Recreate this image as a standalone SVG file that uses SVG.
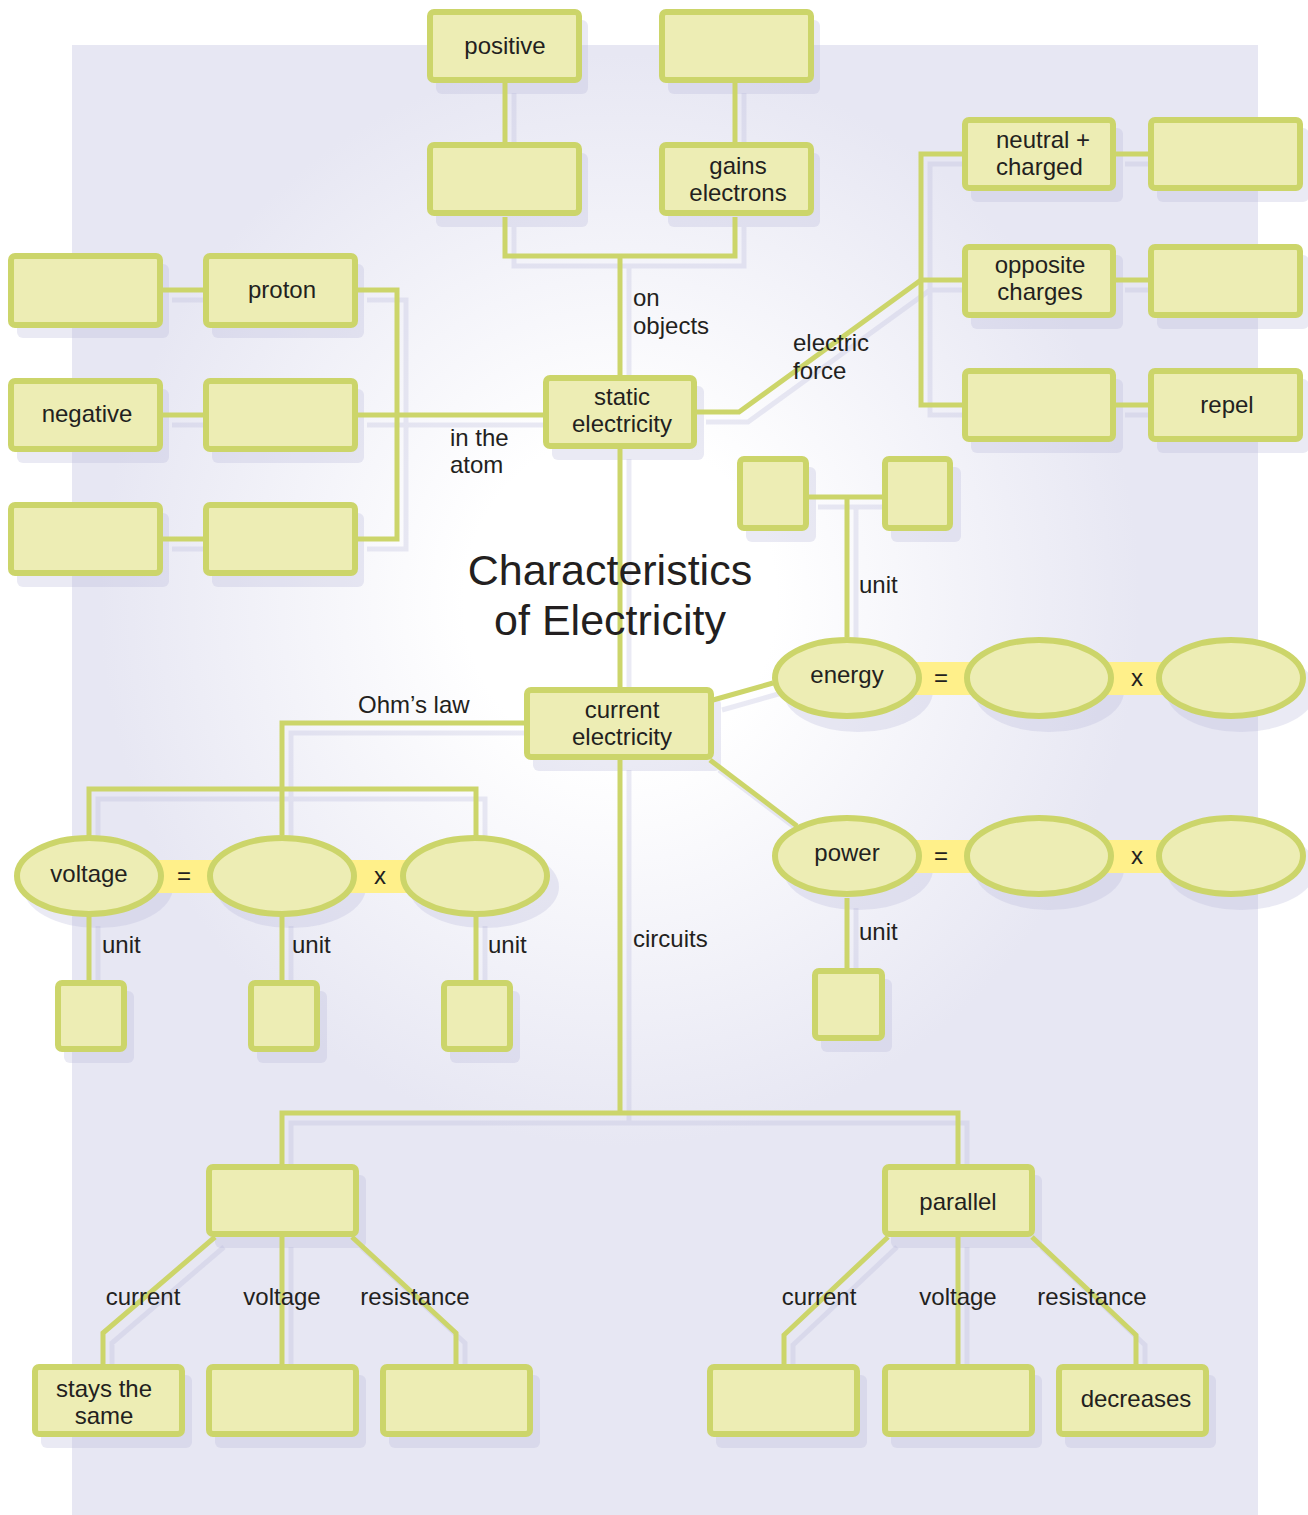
<svg xmlns="http://www.w3.org/2000/svg" width="1308" height="1515" viewBox="0 0 1308 1515">
<defs>
<radialGradient id="glow" gradientUnits="userSpaceOnUse" cx="620" cy="600" r="520" gradientTransform="translate(620 600) scale(1 1.05) translate(-620 -600)">
<stop offset="0" stop-color="#ffffff"/>
<stop offset="0.3" stop-color="#ffffff"/>
<stop offset="1" stop-color="#e7e7f3"/>
</radialGradient>
<style>
.box{fill:#ededb4;stroke:#ccd56a;stroke-width:6}
.sh{fill:#b9b9d9;opacity:.3}
.ln{fill:none;stroke:#ccd56a;stroke-width:5}
.lns{fill:none;stroke:#b9b9d9;stroke-width:5;opacity:.3}
.band{fill:#fff08a}
text{font-family:"Liberation Sans",Arial,sans-serif;font-size:24px;fill:#231f20}
.c{text-anchor:middle}
.title{font-size:43px}
</style>
</defs>
<rect x="0" y="0" width="1308" height="1515" fill="#ffffff"/>
<rect x="72" y="45" width="1186" height="1470" fill="#e7e7f3"/>
<rect x="72" y="45" width="1186" height="1470" fill="url(#glow)"/>

<!-- shadows -->
<g id="connector-shadows" transform="translate(9 10)">
<path class="lns" d="M505,83V142M735,83V142M505,217V256H735V217M620,256V376M620,449V688M620,760V1113M282,1165V1113H958V1165M697,412H739L921,280M962,154H921V405H962M921,280H962M1116,154H1148M1116,280H1148M1116,405H1148M163,290H203M163,415H203M163,539H203M358,290H397V539H358M358,415H543M809,497H882M847,497V637M713,700L773,683M710,760L797,826M847,898V968M525,723H282V835M89,836V789H476V836M89,916V980M282,916V980M476,916V980M215,1237L103,1333V1365M282,1237V1365M352,1237L456,1333V1365M888,1237L784,1335V1365M958,1237V1365M1032,1237L1136,1335V1365"/>
</g>
<g id="node-shadows" transform="translate(9 11)">
<rect class="sh" x="427" y="9" width="152" height="74" rx="6"/>
<rect class="sh" x="659" y="9" width="152" height="74" rx="6"/>
<rect class="sh" x="427" y="142" width="152" height="74" rx="6"/>
<rect class="sh" x="659" y="142" width="152" height="74" rx="6"/>
<rect class="sh" x="543" y="375" width="152" height="74" rx="6"/>
<rect class="sh" x="524" y="687" width="188" height="73" rx="6"/>
<rect class="sh" x="962" y="117" width="152" height="74" rx="6"/>
<rect class="sh" x="1148" y="117" width="152" height="74" rx="6"/>
<rect class="sh" x="962" y="244" width="152" height="74" rx="6"/>
<rect class="sh" x="1148" y="244" width="152" height="74" rx="6"/>
<rect class="sh" x="962" y="368" width="152" height="74" rx="6"/>
<rect class="sh" x="1148" y="368" width="152" height="74" rx="6"/>
<rect class="sh" x="8" y="253" width="152" height="74" rx="6"/>
<rect class="sh" x="203" y="253" width="152" height="74" rx="6"/>
<rect class="sh" x="8" y="378" width="152" height="74" rx="6"/>
<rect class="sh" x="203" y="378" width="152" height="74" rx="6"/>
<rect class="sh" x="8" y="502" width="152" height="74" rx="6"/>
<rect class="sh" x="203" y="502" width="152" height="74" rx="6"/>
<rect class="sh" x="737" y="456" width="70" height="75" rx="6"/>
<rect class="sh" x="882" y="456" width="70" height="75" rx="6"/>
<rect class="sh" x="812" y="968" width="71" height="73" rx="6"/>
<rect class="sh" x="55" y="980" width="70" height="72" rx="6"/>
<rect class="sh" x="248" y="980" width="70" height="72" rx="6"/>
<rect class="sh" x="441" y="980" width="70" height="72" rx="6"/>
<rect class="sh" x="206" y="1164" width="151" height="73" rx="6"/>
<rect class="sh" x="882" y="1164" width="151" height="73" rx="6"/>
<rect class="sh" x="32" y="1364" width="151" height="73" rx="6"/>
<rect class="sh" x="206" y="1364" width="151" height="73" rx="6"/>
<rect class="sh" x="380" y="1364" width="151" height="73" rx="6"/>
<rect class="sh" x="707" y="1364" width="151" height="73" rx="6"/>
<rect class="sh" x="882" y="1364" width="151" height="73" rx="6"/>
<rect class="sh" x="1056" y="1364" width="151" height="73" rx="6"/>
<ellipse class="sh" cx="849" cy="680" rx="75" ry="41"/>
<ellipse class="sh" cx="1040" cy="680" rx="75" ry="41"/>
<ellipse class="sh" cx="1232" cy="680" rx="75" ry="41"/>
<ellipse class="sh" cx="849" cy="858" rx="75" ry="41"/>
<ellipse class="sh" cx="1040" cy="858" rx="75" ry="41"/>
<ellipse class="sh" cx="1232" cy="858" rx="75" ry="41"/>
<ellipse class="sh" cx="89" cy="876" rx="75" ry="41"/>
<ellipse class="sh" cx="282" cy="876" rx="75" ry="41"/>
<ellipse class="sh" cx="475" cy="876" rx="75" ry="41"/>
</g>

<!-- connectors -->
<g id="connectors">
<path class="ln" d="M505,83V142"/>
<path class="ln" d="M735,83V142"/>
<path class="ln" d="M505,217V256H735V217"/>
<path class="ln" d="M620,256V376"/>
<path class="ln" d="M620,449V688"/>
<path class="ln" d="M620,760V1113"/>
<path class="ln" d="M282,1165V1113H958V1165"/>
<path class="ln" d="M697,412H739L921,280"/>
<path class="ln" d="M962,154H921V405H962M921,280H962"/>
<path class="ln" d="M1116,154H1148M1116,280H1148M1116,405H1148"/>
<path class="ln" d="M163,290H203M163,415H203M163,539H203"/>
<path class="ln" d="M358,290H397V539H358"/>
<path class="ln" d="M358,415H543"/>
<path class="ln" d="M809,497H882M847,497V637"/>
<path class="ln" d="M713,700L773,683"/>
<path class="ln" d="M710,760L797,826"/>
<path class="ln" d="M847,898V968"/>
<path class="ln" d="M525,723H282V835"/>
<path class="ln" d="M89,836V789H476V836"/>
<path class="ln" d="M89,916V980M282,916V980M476,916V980"/>
<path class="ln" d="M215,1237L103,1333V1365M282,1237V1365M352,1237L456,1333V1365"/>
<path class="ln" d="M888,1237L784,1335V1365M958,1237V1365M1032,1237L1136,1335V1365"/>
<rect class="band" x="847" y="662" width="385" height="33"/>
<rect class="band" x="847" y="840" width="385" height="33"/>
<rect class="band" x="89" y="860" width="386" height="33"/>
</g>

<!-- nodes -->
<g id="n-positive"><rect class="box" x="430" y="12" width="149" height="68" rx="4"/><text class="c" x="505" y="54">positive</text></g>
<g id="n-top-right"><rect class="box" x="662" y="12" width="149" height="68" rx="4"/></g>
<g id="n-top-left2"><rect class="box" x="430" y="145" width="149" height="68" rx="4"/></g>
<g id="n-gains"><rect class="box" x="662" y="145" width="149" height="68" rx="4"/><text class="c" x="738" y="174">gains</text><text class="c" x="738" y="201">electrons</text></g>
<g id="n-static"><rect class="box" x="546" y="378" width="148" height="68" rx="4"/><text class="c" x="622" y="405">static</text><text class="c" x="622" y="432">electricity</text></g>
<g id="n-current"><rect class="box" x="527" y="690" width="184" height="67" rx="4"/><text class="c" x="622" y="718">current</text><text class="c" x="622" y="745">electricity</text></g>
<g id="n-neutral"><rect class="box" x="965" y="120" width="148" height="68" rx="4"/><text x="996" y="148">neutral +</text><text x="996" y="175">charged</text></g>
<g id="n-r1"><rect class="box" x="1151" y="120" width="149" height="68" rx="4"/></g>
<g id="n-opposite"><rect class="box" x="965" y="247" width="148" height="68" rx="4"/><text class="c" x="1040" y="273">opposite</text><text class="c" x="1040" y="300">charges</text></g>
<g id="n-r2"><rect class="box" x="1151" y="247" width="149" height="68" rx="4"/></g>
<g id="n-r3left"><rect class="box" x="965" y="371" width="148" height="68" rx="4"/></g>
<g id="n-repel"><rect class="box" x="1151" y="371" width="149" height="68" rx="4"/><text class="c" x="1227" y="413">repel</text></g>
<g id="n-l1"><rect class="box" x="11" y="256" width="149" height="69" rx="4"/></g>
<g id="n-proton"><rect class="box" x="206" y="256" width="149" height="69" rx="4"/><text class="c" x="282" y="298">proton</text></g>
<g id="n-negative"><rect class="box" x="11" y="381" width="149" height="68" rx="4"/><text class="c" x="87" y="422">negative</text></g>
<g id="n-l2"><rect class="box" x="206" y="381" width="149" height="68" rx="4"/></g>
<g id="n-l3"><rect class="box" x="11" y="505" width="149" height="68" rx="4"/></g>
<g id="n-l4"><rect class="box" x="206" y="505" width="149" height="68" rx="4"/></g>
<g id="n-esq1"><rect class="box" x="740" y="459" width="66" height="69" rx="4"/></g>
<g id="n-esq2"><rect class="box" x="885" y="459" width="65" height="69" rx="4"/></g>
<g id="n-energy"><ellipse class="box" cx="847" cy="678" rx="72" ry="38"/><text class="c" x="847" y="683">energy</text></g>
<g id="n-e2"><ellipse class="box" cx="1039" cy="678" rx="72" ry="38"/></g>
<g id="n-e3"><ellipse class="box" cx="1231" cy="678" rx="72" ry="38"/></g>
<text class="c" x="941" y="686">=</text><text class="c" x="1137" y="686">x</text>
<g id="n-power"><ellipse class="box" cx="847" cy="856" rx="72" ry="38"/><text class="c" x="847" y="861">power</text></g>
<g id="n-p2"><ellipse class="box" cx="1039" cy="856" rx="72" ry="38"/></g>
<g id="n-p3"><ellipse class="box" cx="1231" cy="856" rx="72" ry="38"/></g>
<text class="c" x="941" y="864">=</text><text class="c" x="1137" y="864">x</text>
<g id="n-psq"><rect class="box" x="815" y="971" width="67" height="67" rx="4"/></g>
<g id="n-voltage"><ellipse class="box" cx="89" cy="876" rx="72" ry="38"/><text class="c" x="89" y="882">voltage</text></g>
<g id="n-v2"><ellipse class="box" cx="282" cy="876" rx="72" ry="38"/></g>
<g id="n-v3"><ellipse class="box" cx="475" cy="876" rx="72" ry="38"/></g>
<text class="c" x="184" y="884">=</text><text class="c" x="380" y="884">x</text>
<g id="n-vsq1"><rect class="box" x="58" y="983" width="66" height="66" rx="4"/></g>
<g id="n-vsq2"><rect class="box" x="251" y="983" width="66" height="66" rx="4"/></g>
<g id="n-vsq3"><rect class="box" x="444" y="983" width="66" height="66" rx="4"/></g>
<g id="n-series"><rect class="box" x="209" y="1167" width="147" height="67" rx="4"/></g>
<g id="n-parallel"><rect class="box" x="885" y="1167" width="147" height="67" rx="4"/><text class="c" x="958" y="1210">parallel</text></g>
<g id="n-stays"><rect class="box" x="35" y="1367" width="147" height="67" rx="4"/><text class="c" x="104" y="1397">stays the</text><text class="c" x="104" y="1424">same</text></g>
<g id="n-sb2"><rect class="box" x="209" y="1367" width="147" height="67" rx="4"/></g>
<g id="n-sb3"><rect class="box" x="383" y="1367" width="147" height="67" rx="4"/></g>
<g id="n-pb1"><rect class="box" x="710" y="1367" width="147" height="67" rx="4"/></g>
<g id="n-pb2"><rect class="box" x="885" y="1367" width="147" height="67" rx="4"/></g>
<g id="n-decreases"><rect class="box" x="1059" y="1367" width="147" height="67" rx="4"/><text class="c" x="1136" y="1407">decreases</text></g>

<!-- labels -->
<g id="labels">
<text class="title c" x="610" y="585">Characteristics</text>
<text class="title c" x="610" y="635">of Electricity</text>
<text x="633" y="306">on</text><text x="633" y="334">objects</text>
<text x="450" y="446">in the</text><text x="450" y="473">atom</text>
<text x="793" y="351">electric</text><text x="793" y="379">force</text>
<text x="859" y="593">unit</text>
<text x="358" y="713">Ohm’s law</text>
<text x="102" y="953">unit</text><text x="292" y="953">unit</text><text x="488" y="953">unit</text>
<text x="859" y="940">unit</text>
<text x="633" y="947">circuits</text>
<text class="c" x="143" y="1305">current</text><text class="c" x="282" y="1305">voltage</text><text class="c" x="415" y="1305">resistance</text>
<text class="c" x="819" y="1305">current</text><text class="c" x="958" y="1305">voltage</text><text class="c" x="1092" y="1305">resistance</text>
</g>
</svg>
